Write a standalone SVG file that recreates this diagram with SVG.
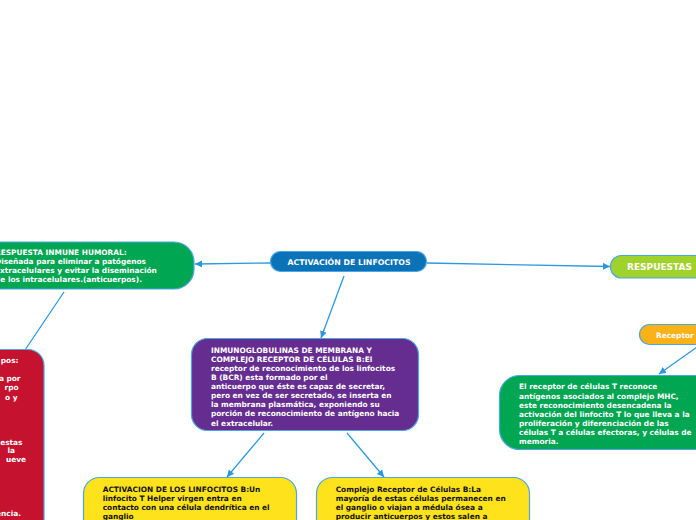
<svg xmlns="http://www.w3.org/2000/svg" width="696" height="520" viewBox="0 0 696 520">
<defs>
<marker id="arr" markerUnits="userSpaceOnUse" markerWidth="8" markerHeight="8" refX="7" refY="3.5" orient="auto">
<path d="M0,0 L7,3.5 L0,7 z" fill="#2b96dc"/>
</marker>
<style>
.t{font-family:"DejaVu Sans",Verdana,sans-serif;font-weight:bold;font-size:7.4px;fill:#fff}
.k{fill:#111}
.box{stroke:#4aa6e6;stroke-width:1.2}
.c{fill:none;stroke:#2b9ae0;stroke-width:1.3}
</style>
</defs>
<rect width="696" height="520" fill="#fff"/>
<g id="connectors">
<line class="c" x1="270" y1="263" x2="195" y2="264" marker-end="url(#arr)"/>
<line class="c" x1="427" y1="263" x2="610" y2="266.5" marker-end="url(#arr)"/>
<line class="c" x1="344" y1="276" x2="321" y2="338" marker-end="url(#arr)"/>
<line class="c" x1="64" y1="292" x2="25" y2="350"/>
<line class="c" x1="264" y1="433" x2="227" y2="477" marker-end="url(#arr)"/>
<line class="c" x1="347" y1="433" x2="384" y2="477" marker-end="url(#arr)"/>
<line class="c" x1="697" y1="347" x2="659" y2="374" marker-end="url(#arr)"/>
</g>
<g id="central">
<rect class="box" x="270.5" y="251.5" width="156" height="20" rx="10" fill="#0a72b6"/>
<text class="t" x="349" y="264.5" text-anchor="middle" style="font-size:7.8px">ACTIVACIÓN DE LINFOCITOS</text>
</g>
<g id="humoral">
<rect class="box" x="-30" y="242" width="224" height="47" rx="20" fill="#00a651"/>
<text class="t" x="-5" y="254.5">RESPUESTA INMUNE HUMORAL:</text>
<text class="t" x="-5" y="263.7">Diseñada para eliminar a patógenos</text>
<text class="t" x="-5" y="273">extracelulares y evitar la diseminación</text>
<text class="t" x="-5" y="282.2">de los intracelulares.(anticuerpos).</text>
</g>
<g id="red">
<rect class="box" x="-40" y="349.5" width="84" height="200" rx="16" fill="#c4122f"/>
<text class="t" x="18.5" y="363" text-anchor="end">pos:</text>
<text class="t" x="20.5" y="381" text-anchor="end">a por</text>
<text class="t" x="18.5" y="390" text-anchor="end">rpo</text>
<text class="t" x="17.5" y="399.5" text-anchor="end">o y</text>
<text class="t" x="22.5" y="444.5" text-anchor="end">estas</text>
<text class="t" x="15" y="453" text-anchor="end">la</text>
<text class="t" x="26" y="462" text-anchor="end">ueve</text>
<text class="t" x="21" y="516" text-anchor="end">encia.</text>
</g>
<g id="respuestas">
<rect class="box" x="610.5" y="255.5" width="110" height="22.5" rx="11" fill="#9fd22a"/>
<text class="t" x="627" y="270" style="font-size:9px">RESPUESTAS</text>
</g>
<g id="receptor">
<rect class="box" x="639.5" y="324.5" width="80" height="20" rx="10" fill="#fbb217"/>
<text class="t" x="656" y="337.5">Receptor</text>
</g>
<g id="celulasT">
<rect class="box" x="499.5" y="375.5" width="220" height="74" rx="20" fill="#00a651"/>
<text class="t" x="519" y="389.4">El receptor de células T reconoce</text>
<text class="t" x="519" y="398.5">antígenos asociados al complejo MHC,</text>
<text class="t" x="519" y="407.6">este reconocimiento desencadena la</text>
<text class="t" x="519" y="416.6">activación del linfocito T lo que lleva a la</text>
<text class="t" x="519" y="425.5">proliferación y diferenciación de las</text>
<text class="t" x="519" y="434.5">células T a células efectoras, y células de</text>
<text class="t" x="519" y="443.5">memoria.</text>
</g>
<g id="inmuno">
<rect class="box" x="191.5" y="338.5" width="227" height="92" rx="16" fill="#662d91"/>
<text class="t" x="211" y="352.7">INMUNOGLOBULINAS DE MEMBRANA Y</text>
<text class="t" x="211" y="361.8">COMPLEJO RECEPTOR DE CÉLULAS B:El</text>
<text class="t" x="211" y="370.9">receptor de reconocimiento de los linfocitos</text>
<text class="t" x="211" y="380">B (BCR) esta formado por el</text>
<text class="t" x="211" y="389.1">anticuerpo que éste es capaz de secretar,</text>
<text class="t" x="211" y="398.2">pero en vez de ser secretado, se inserta en</text>
<text class="t" x="211" y="407.3">la membrana plasmática, exponiendo su</text>
<text class="t" x="211" y="416.4">porción de reconocimiento de antígeno hacia</text>
<text class="t" x="211" y="425.5">el extracelular.</text>
</g>
<g id="activacionB">
<rect class="box" x="83.5" y="477.5" width="213" height="70" rx="16" fill="#fde21c"/>
<text class="t k" x="102.7" y="491.7">ACTIVACION DE LOS LINFOCITOS B:Un</text>
<text class="t k" x="102.7" y="500.8">linfocito T Helper virgen entra en</text>
<text class="t k" x="102.7" y="509.9">contacto con una célula dendrítica en el</text>
<text class="t k" x="102.7" y="519">ganglio</text>
</g>
<g id="complejoB">
<rect class="box" x="316.5" y="477.5" width="213" height="70" rx="16" fill="#fde21c"/>
<text class="t k" x="335.7" y="491.7">Complejo Receptor de Células B:La</text>
<text class="t k" x="335.7" y="500.8">mayoría de estas células permanecen en</text>
<text class="t k" x="335.7" y="509.9">el ganglio o viajan a médula ósea a</text>
<text class="t k" x="335.7" y="519">producir anticuerpos y estos salen a</text>
</g>
</svg>
